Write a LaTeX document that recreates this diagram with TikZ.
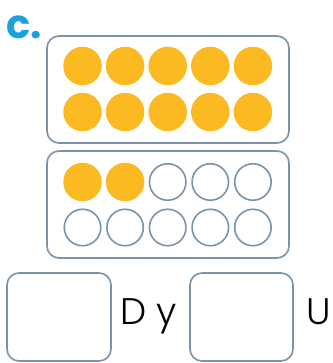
\documentclass[tikz,border=0pt]{standalone}
\usepackage{fontspec}
\setmainfont{Lato}
\newfontfamily\labelfont{Poppins}[UprightFont={* Bold}]
\newfontfamily\wordfont{Poppins}[UprightFont={* Light}]
\definecolor{dotorange}{HTML}{FBBA22}
\definecolor{frame}{HTML}{7A93AA}
\definecolor{labelblue}{HTML}{1BA1DD}
\tikzset{
  panel/.style={draw=frame, line width=1.6pt, rounded corners=12pt},
  fulldot/.style={circle, fill=dotorange, minimum size=38.5pt, inner sep=0pt},
  emptydot/.style={circle, draw=frame, line width=1.6pt, minimum size=36.5pt, inner sep=0pt},
  answerbox/.style={draw=frame, line width=1.6pt, rounded corners=12pt},
  word/.style={anchor=base west, inner sep=0pt, font=\wordfont\fontsize{37}{40}\selectfont}
}
\begin{document}
\begin{tikzpicture}[x=1pt,y=-1pt]
\useasboundingbox (0,0) rectangle (332,363);
\node[anchor=base west, inner sep=0pt, text=labelblue, font=\labelfont\fontsize{40}{40}\selectfont] (lbl) at (6,39) {c.};
% top panel
\draw[panel] (47,36) rectangle (289,143);
\foreach \i in {0,...,4}{
  \node[fulldot] (a\i) at ({82.5+42.6*\i},66) {};
  \node[fulldot] (b\i) at ({82.5+42.6*\i},112) {};
}
% bottom panel
\draw[panel] (47,151) rectangle (289,258);
\foreach \i in {0,1}{
  \node[fulldot] (c\i) at ({82.5+42.6*\i},182) {};
}
\foreach \i in {2,3,4}{
  \node[emptydot] (c\i) at ({82.5+42.6*\i},182) {};
}
\foreach \i in {0,...,4}{
  \node[emptydot] (d\i) at ({82.5+42.6*\i},227.5) {};
}
% answer boxes
\draw[answerbox] (7,273) rectangle (111,361);
\draw[answerbox] (190,273) rectangle (293,361);
\node[word] (dy) at (120,324) {D y};
\node[word] (u) at (306,324) {U};
\end{tikzpicture}
\end{document}
